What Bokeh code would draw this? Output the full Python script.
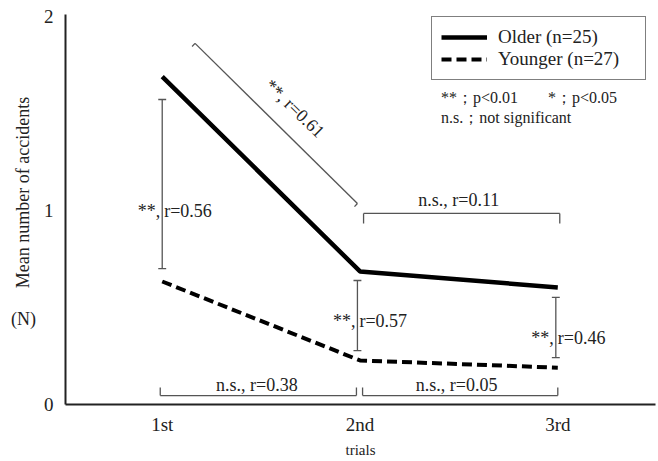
import math
from bokeh.plotting import figure
from bokeh.layouts import row
from bokeh.models import (Label, Legend, LegendItem, FixedTicker)
from bokeh.embed import file_html
from bokeh.resources import INLINE

# ---- data ----
trial_x = [1, 2, 3]
trial_labels = ["1st", "2nd", "3rd"]
older = [1.69, 0.686, 0.603]
younger = [0.634, 0.227, 0.19]

# between-group comparisons (vertical brackets)
vb_x = [1.0, 1.987, 2.99]
vb_low = [0.70, 0.278, 0.242]
vb_high = [1.572, 0.639, 0.552]
vb_sig = ["**,", "**,", "**,"]
vb_r = ["r=0.56", "r=0.57", "r=0.46"]
vb_label_y = [0.995, 0.428, 0.345]

# within-group comparisons (horizontal brackets)
hb_x0 = [2.018, 0.99, 2.013]
hb_x1 = [3.01, 1.982, 3.0]
hb_y = [0.985, 0.046, 0.046]
hb_tick = [-0.052, 0.041, 0.041]
hb_text = ["n.s.,  r=0.11", "n.s.,  r=0.38", "n.s.,  r=0.05"]
hb_label_x = [2.511, 1.49, 2.50]
hb_label_y = [1.052, 0.098, 0.098]

# diagonal bracket (older 1st -> 2nd)
db_start = (1.166, 1.861)
db_end = (1.987, 1.036)
db_text = "**, r=0.61"
db_label = (1.67, 1.526)

y_title = "Mean number of accidents"
y_unit = "(N)"

FONT = "Liberation Serif"
TXT = "#222222"
BR = "#555555"

# ---- left strip holding the y-axis title (page-pixel coordinates) ----
side = figure(width=40, height=461, output_backend="svg", toolbar_location=None,
              x_range=(0, 40), y_range=(404, 14),
              x_axis_location=None, y_axis_location=None,
              min_border=0)
side.outline_line_color = None
side.grid.visible = False
side.add_layout(Label(x=22, y=192, text=y_title, angle=math.pi / 2,
                      text_font=FONT, text_font_size="18px", text_align="center",
                      text_baseline="middle", text_color=TXT))
side.add_layout(Label(x=23, y=318, text=y_unit,
                      text_font=FONT, text_font_size="18px", text_align="center",
                      text_baseline="middle", text_color=TXT))

# ---- main chart ----
p = figure(width=618, height=461, output_backend="svg", toolbar_location=None,
           x_range=(0.511, 3.494), y_range=(0, 2.01),
           min_border_left=23, min_border_right=3, min_border_top=14,
           min_border_bottom=57)
p.outline_line_color = None
p.grid.visible = False
p.background_fill_color = "white"
p.border_fill_color = "white"

p.xaxis.ticker = FixedTicker(ticks=trial_x)
p.xaxis.major_label_overrides = {x: l for x, l in zip(trial_x, trial_labels)}
p.yaxis.ticker = FixedTicker(ticks=[0, 1, 2])
for ax in (p.xaxis, p.yaxis):
    ax.axis_line_width = 2
    ax.axis_line_color = "#222222"
    ax.major_tick_line_color = None
    ax.minor_tick_line_color = None
    ax.major_label_text_font = FONT
    ax.major_label_text_font_size = "19px"
    ax.major_label_text_color = "#222222"
p.yaxis.major_label_standoff = 6
p.xaxis.major_label_standoff = 3
p.xaxis.axis_label = "trials"
p.xaxis.axis_label_text_font = FONT
p.xaxis.axis_label_text_font_style = "normal"
p.xaxis.axis_label_text_font_size = "15px"
p.xaxis.axis_label_standoff = 4
p.xaxis.axis_label_text_color = "#222222"

r_old = p.line(trial_x, older, line_color="black", line_width=4.5)
r_young = p.line(trial_x, younger, line_color="black", line_width=4,
                 line_dash="10 5")

cap = 0.02
xs0, ys0, xs1, ys1 = [], [], [], []
for x, lo, hi in zip(vb_x, vb_low, vb_high):
    xs0 += [x, x - cap, x - cap]
    ys0 += [lo, lo, hi]
    xs1 += [x, x + cap, x + cap]
    ys1 += [hi, lo, hi]
for a, b, y, t in zip(hb_x0, hb_x1, hb_y, hb_tick):
    xs0 += [a, a, b]
    ys0 += [y, y, y]
    xs1 += [b, a, b]
    ys1 += [y, y + t, y + t]
(dx0, dy0), (dx1, dy1) = db_start, db_end
xs0 += [dx0, dx0, dx1]
ys0 += [dy0, dy0, dy1]
xs1 += [dx1, dx0 - 0.015, dx1 - 0.015]
ys1 += [dy1, dy0 - 0.016, dy1 - 0.016]
p.segment(xs0, ys0, xs1, ys1, line_color=BR, line_width=1.3)


def lab(x, y, text, size="18px", align="center", angle=0, x_offset=0,
        baseline="middle"):
    p.add_layout(Label(x=x, y=y, text=text, text_font=FONT,
                       text_font_size=size, text_align=align,
                       text_baseline=baseline, angle=angle,
                       x_offset=x_offset, text_color=TXT))


for x, y, s, r in zip(vb_x, vb_label_y, vb_sig, vb_r):
    lab(x, y, s, align="right", x_offset=-2)
    lab(x, y, r, align="left", x_offset=2)
for x, y, t in zip(hb_label_x, hb_label_y, hb_text):
    lab(x, y, t)
lab(db_label[0], db_label[1], db_text, angle=-0.77)

lab(2.41, 1.582, "**；p<0.01", size="16px", align="left")
lab(2.95, 1.582, "*；p<0.05", size="16px", align="left")
lab(2.41, 1.479, "n.s.；not significant", size="16px", align="left")

legend = Legend(items=[LegendItem(label="Older (n=25)", renderers=[r_old]),
                       LegendItem(label="Younger (n=27)", renderers=[r_young])],
                location=(366, 324), orientation="vertical",
                border_line_color="black", border_line_width=1.5,
                padding=9, spacing=0, glyph_width=46, glyph_height=20,
                label_height=20, label_standoff=11, label_width=138,
                label_text_font=FONT, label_text_font_size="19px",
                label_text_color=TXT, margin=0,
                background_fill_color="white", background_fill_alpha=1)
p.add_layout(legend)

layout = row(side, p, spacing=0)
open("out.html", "w").write(file_html(layout, INLINE))
